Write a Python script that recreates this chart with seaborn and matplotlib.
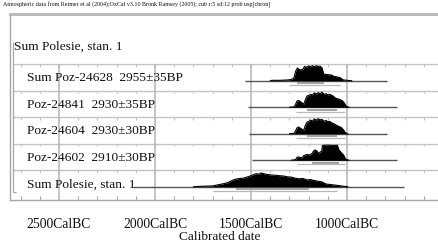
import numpy as np
import pandas as pd
import matplotlib
matplotlib.use("Agg")
import matplotlib.pyplot as plt
import matplotlib.transforms as mtransforms
import seaborn as sns

# ---------------- data ----------------
title = ("Atmospheric data from Reimer et al (2004);OxCal v3.10 Bronk Ramsey (2005); "
         "cub r:5 sd:12 prob usp[chron]")
group_label = "Sum Polesie, stan. 1"
row_labels = ["Sum Poz-24628  2955\u00b135BP",
              "Poz-24841  2930\u00b135BP",
              "Poz-24604  2930\u00b130BP",
              "Poz-24602  2910\u00b130BP",
              "Sum Polesie, stan. 1"]
tick_years = [-2500, -2000, -1500, -1000]
tick_labels = ["2500CalBC", "2000CalBC", "1500CalBC", "1000CalBC"]
xlabel = "Calibrated date"

# plotted range (baseline) of each distribution, years (negative = BC)
base_start = [-1531, -1516, -1510, -1495, -2115]
base_end = [-792, -740, -792, -740, -703]

# probability distributions (year, relative probability)
d1_year = [-1400, -1390, -1350, -1313, -1290, -1276, -1268, -1258, -1250, -1240,
           -1228, -1222, -1212, -1200, -1190, -1180, -1170, -1160, -1150, -1140,
           -1130, -1122, -1110, -1095, -1080, -1070, -1050, -1035, -1020, -1000, -975]
d1_prob = [0.0, 0.03, 0.03, 0.05, 0.08, 0.2, 0.62, 0.85, 0.75, 0.72,
           0.78, 0.95, 0.9, 0.98, 0.92, 1.0, 0.93, 1.0, 0.95, 0.97,
           0.85, 0.45, 0.42, 0.4, 0.38, 0.3, 0.25, 0.2, 0.06, 0.03, 0.0]

d2_year = [-1300, -1275, -1268, -1260, -1252, -1240, -1226, -1217, -1208, -1200,
           -1190, -1180, -1170, -1160, -1150, -1140, -1130, -1120, -1110, -1100,
           -1090, -1080, -1070, -1060, -1045, -1026, -1015, -1005, -990]
d2_prob = [0.0, 0.03, 0.2, 0.42, 0.45, 0.35, 0.2, 0.5, 0.75, 0.78,
           0.85, 0.82, 0.95, 0.88, 0.97, 0.9, 1.0, 0.85, 0.9, 0.82,
           0.85, 0.8, 0.72, 0.6, 0.55, 0.45, 0.3, 0.08, 0.0]

d3_year = [-1300, -1275, -1268, -1260, -1252, -1240, -1226, -1217, -1208, -1200,
           -1190, -1180, -1170, -1160, -1150, -1140, -1130, -1120, -1110, -1100,
           -1090, -1080, -1070, -1060, -1045, -1030, -1018, -1008, -995]
d3_prob = [0.0, 0.03, 0.2, 0.4, 0.45, 0.35, 0.22, 0.55, 0.78, 0.8,
           0.9, 0.85, 0.98, 0.9, 1.0, 0.92, 0.95, 0.82, 0.88, 0.8,
           0.82, 0.72, 0.68, 0.6, 0.5, 0.42, 0.25, 0.06, 0.0]

d4_year = [-1290, -1268, -1260, -1250, -1236, -1226, -1210, -1195, -1182, -1174,
           -1165, -1156, -1148, -1139, -1132, -1128, -1110, -1090, -1070, -1050,
           -1043, -1030, -1018, -1008, -990]
d4_prob = [0.0, 0.04, 0.2, 0.22, 0.15, 0.3, 0.38, 0.35, 0.45, 0.62,
           0.68, 0.6, 0.45, 0.55, 0.6, 0.98, 1.0, 1.0, 0.98, 1.0,
           0.7, 0.5, 0.35, 0.08, 0.0]

d5_year = [-1800, -1766, -1700, -1680, -1650, -1620, -1600, -1580, -1560, -1540,
           -1522, -1500, -1480, -1470, -1460, -1450, -1440, -1425, -1410, -1390,
           -1370, -1350, -1330, -1310, -1290, -1270, -1250, -1230, -1210, -1190,
           -1170, -1150, -1130, -1110, -1080, -1050, -1020, -995]
d5_prob = [0.0, 0.03, 0.06, 0.12, 0.2, 0.3, 0.45, 0.55, 0.6, 0.62,
           0.7, 0.8, 0.92, 0.95, 0.9, 1.0, 0.97, 0.92, 0.88, 0.85,
           0.83, 0.8, 0.78, 0.72, 0.7, 0.62, 0.58, 0.6, 0.5, 0.52,
           0.45, 0.4, 0.35, 0.2, 0.15, 0.1, 0.04, 0.0]

# highest posterior density ranges (68.2% and 95.4%)
r68_start = [-1260, -1210, -1210, -1180, -1580]
r68_end = [-1120, -1050, -1050, -1040, -1200]
r95_start = [-1304, -1265, -1265, -1262, -1697]
r95_end = [-1035, -1010, -1012, -1010, -1052]

# ---------------- style ----------------
sns.set_style("white")
plt.rcParams["font.family"] = ["Liberation Serif", "DejaVu Serif"]

fig = plt.figure(figsize=(4.39, 2.44), dpi=100)
ax = fig.add_axes([10 / 439, 1 - 200 / 244, 1 - 10 / 439, (200 - 14) / 244])

xmin, xmax = -2755, -521
ax.set_xlim(xmin, xmax)
ax.set_ylim(4.5, -2.52)

frame_c = "#a8a8a8"
sep_c = "#c4c4c4"
grid_c = "#b4b4b4"

dists = [(d1_year, d1_prob), (d2_year, d2_prob), (d3_year, d3_prob),
         (d4_year, d4_prob), (d5_year, d5_prob)]
hscale = [0.57, 0.57, 0.57, 0.57, 0.52]

# separators with little ticks
minor = np.arange(-2700, -500, 100)
for i in range(5):
    ys = i - 0.62
    ax.hlines(ys, -2740, xmax, color=sep_c, lw=1, zorder=1)
    ax.vlines(minor, ys, ys + 0.1, color=sep_c, lw=0.8, zorder=1)

# major gridlines
ax.vlines(tick_years, -0.62, 4.5, color=grid_c, lw=1.1, zorder=1)

# group bracket
ax.vlines(-2740, -1.46, 4.2, color=frame_c, lw=0.9)
ax.hlines(4.2, -2740, -2724, color=frame_c, lw=0.9)

for i, (yr, pr) in enumerate(dists):
    df = pd.DataFrame({"year": yr, "y": i - np.array(pr) * hscale[i]})
    ax.hlines(i, base_start[i], base_end[i], color="#555555", lw=1.0, zorder=2)
    ax.fill_between(df["year"], i, df["y"], color="black", lw=0, zorder=3)
    sns.lineplot(data=df, x="year", y="y", ax=ax, color="black", lw=0.8,
                 sort=False, zorder=3)
    ax.hlines(i + 0.09, r68_start[i], r68_end[i], color="#a0a0a0", lw=1.4, zorder=2)
    ax.hlines(i + 0.16, r95_start[i], r95_end[i], color="#b8b8b8", lw=0.9, zorder=2)
    ax.text(-2667, i + 0.02, row_labels[i], fontsize=9.6, va="baseline",
            ha="left", color="#111111", zorder=4)

ax.text(-2734, -1.16, group_label, fontsize=9.6, va="baseline", ha="left",
        color="#111111")

fig.text(0.007, 1 - 5 / 244, title, fontsize=4.3, va="center", ha="left",
         color="#111111")

# spines
for s in ["left", "bottom"]:
    ax.spines[s].set_color(frame_c)
    ax.spines[s].set_linewidth(1.0)
ax.spines["top"].set_color("#b8b8b8")
ax.spines["top"].set_linewidth(2.0)
ax.spines["right"].set_visible(False)

ax.set_yticks([])
ax.set_xticks(tick_years)
ax.set_xticklabels(tick_labels, fontsize=9.8, color="#111111")
shift = mtransforms.ScaledTranslation(-3 / 100, 0, fig.dpi_scale_trans)
for lab in ax.get_xticklabels():
    lab.set_transform(lab.get_transform() + shift)
ax.set_xticks(minor, minor=True)
ax.tick_params(axis="x", which="major", length=0, pad=13)
ax.tick_params(axis="x", which="minor", direction="in", length=3,
               color=frame_c, width=0.8, bottom=True)
ax.set_xlabel(xlabel, fontsize=9.6, color="#111111", va="center")
ax.xaxis.set_label_coords((220 - 10) / 429, (200 - 237.5) / 186)
ax.set_ylabel("")

fig.savefig("out.png", dpi=100)
